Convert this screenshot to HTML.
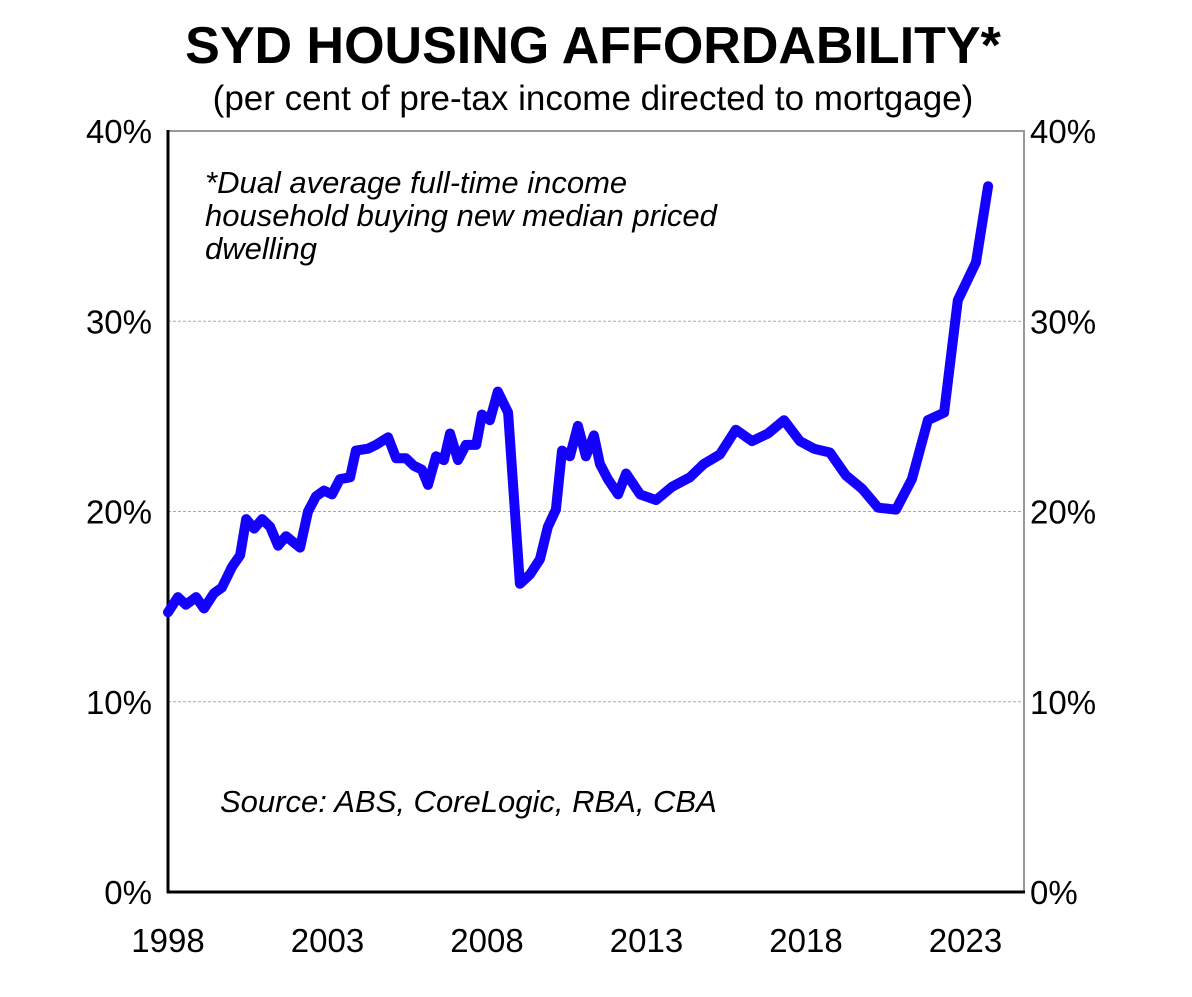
<!DOCTYPE html>
<html><head><meta charset="utf-8"><style>
body{margin:0;background:#fff;width:1192px;height:992px;overflow:hidden}
text{font-family:"Liberation Sans",Arial,sans-serif}
</style></head><body>
<svg id="chart" width="1192" height="992" viewBox="0 0 1192 992">
<text x="593" y="63" text-anchor="middle" font-size="52" font-weight="bold">SYD HOUSING AFFORDABILITY*</text>
<text x="593" y="110" text-anchor="middle" font-size="35">(per cent of pre-tax income directed to mortgage)</text>
<g id="grid"></g>
<rect x="168" y="131" width="856" height="761" fill="none" stroke="#999" stroke-width="2"/>
<line x1="168" y1="130" x2="168" y2="893" stroke="#000" stroke-width="3"/>
<line x1="167" y1="892" x2="1025" y2="892" stroke="#000" stroke-width="3"/>
<g id="labels"></g>
<text x="205" y="193" font-size="31" font-style="italic"><tspan x="205">*Dual average full-time income</tspan><tspan x="205" dy="33">household buying new median priced</tspan><tspan x="205" dy="33">dwelling</tspan></text>
<text x="220" y="812" font-size="31" font-style="italic">Source: ABS, CoreLogic, RBA, CBA</text>
<path id="series" fill="none" stroke="#1400ff" stroke-width="10" stroke-linejoin="round" stroke-linecap="round"/>
</svg>
<script>
const years=[1998.00,1998.31,1998.56,1998.88,1999.13,1999.44,1999.69,2000.01,2000.26,2000.45,2000.70,2000.95,2001.20,2001.45,2001.70,2002.14,2002.39,2002.64,2002.89,2003.14,2003.39,2003.71,2003.89,2004.27,2004.52,2004.90,2005.15,2005.46,2005.71,2005.96,2006.15,2006.40,2006.65,2006.84,2007.09,2007.34,2007.66,2007.84,2008.09,2008.34,2008.66,2009.03,2009.35,2009.66,2009.91,2010.16,2010.35,2010.60,2010.85,2011.10,2011.35,2011.54,2011.79,2012.11,2012.36,2012.80,2013.30,2013.80,2014.36,2014.80,2015.30,2015.80,2016.31,2016.81,2017.31,2017.81,2018.25,2018.75,2019.25,2019.76,2020.26,2020.82,2021.32,2021.82,2022.33,2022.76,2023.33,2023.71];
const values=[14.7,15.5,15.1,15.5,14.9,15.7,16.0,17.1,17.7,19.6,19.1,19.6,19.2,18.2,18.7,18.1,20.0,20.8,21.1,20.9,21.7,21.8,23.2,23.3,23.5,23.9,22.8,22.8,22.4,22.2,21.4,22.9,22.7,24.1,22.7,23.5,23.5,25.1,24.8,26.3,25.2,16.2,16.7,17.5,19.2,20.1,23.2,22.9,24.5,22.9,24.0,22.5,21.7,20.9,22.0,20.9,20.6,21.3,21.8,22.5,23.0,24.3,23.7,24.1,24.8,23.7,23.3,23.1,21.9,21.2,20.2,20.1,21.7,24.8,25.2,31.1,33.1,37.1];
const yTicks=[0,10,20,30,40];
const xTicks=[1998,2003,2008,2013,2018,2023];
const X=y=>168+(y-1998)*31.9;
const Y=v=>892-v*19.025;
const ns="http://www.w3.org/2000/svg";
const grid=document.getElementById('grid'),labels=document.getElementById('labels');
yTicks.forEach(t=>{
  if(t>0&&t<40){const l=document.createElementNS(ns,'line');
  l.setAttribute('x1',168);l.setAttribute('x2',1024);l.setAttribute('y1',Y(t));l.setAttribute('y2',Y(t));
  l.setAttribute('stroke','#aaa');l.setAttribute('stroke-dasharray','3 2');
  
  
  grid.appendChild(l);}
  [[152,'end','left'],[1030,'start','right']].forEach(([x,a,s])=>{
    const tx=document.createElementNS(ns,'text');
    tx.setAttribute('x',x);tx.setAttribute('y',Y(t)+12);tx.setAttribute('text-anchor',a);tx.setAttribute('font-size','33');
    tx.textContent=t+'%';
    
    
    labels.appendChild(tx);});
});
xTicks.forEach(t=>{
  const tx=document.createElementNS(ns,'text');
  tx.setAttribute('x',X(t));tx.setAttribute('y',952);tx.setAttribute('text-anchor','middle');tx.setAttribute('font-size','33');
  tx.textContent=t;
  
  
  labels.appendChild(tx);
});
document.getElementById('series').setAttribute('d',years.map((y,i)=>(i?'L':'M')+X(y).toFixed(1)+','+Y(values[i]).toFixed(1)).join(''));
</script>
</body></html>
